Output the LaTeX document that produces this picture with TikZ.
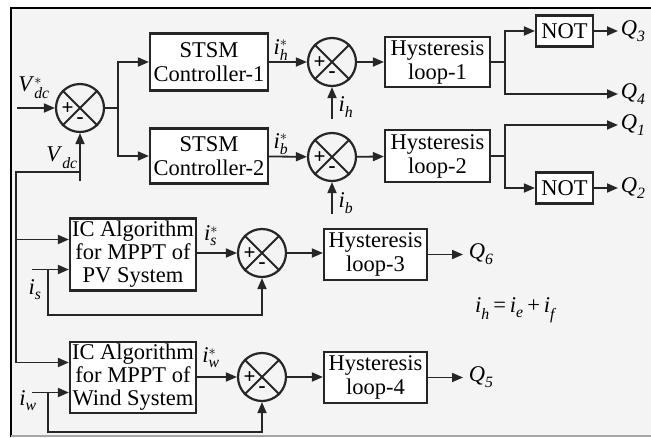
\documentclass[tikz,border=0pt]{standalone}
\usepackage{fontspec}
\usepackage{amsmath}
\setmainfont{Liberation Serif}
\usetikzlibrary{calc, positioning}
\usetikzlibrary{arrows.meta}

\definecolor{panelgray}{HTML}{F4F4F4}
\definecolor{linegray}{HTML}{262626}
\newcommand{\sig}[3]{\textit{#1}$^{#2}_{\textit{#3}}$}

\begin{document}
\begin{tikzpicture}[x=1pt, y=-1pt, line width=1.8pt, draw=linegray,
  every node/.style={font=\fontsize{22.5}{24}\selectfont},
  blockbox/.style={draw=linegray, line width=2.2pt, fill=white, align=center, inner sep=0pt},
  sumnode/.style={circle, draw=linegray, line width=2.2pt, minimum size=48pt, inner sep=0pt},
  sigarrow/.style={-{Triangle[length=11pt,width=9pt]}}]
\useasboundingbox (0,0) rectangle (651,437);

% Panel
\fill[white] (0,0) rectangle (651,437);
\fill[panelgray] (11,8) rectangle (651,436);
\draw[black, line width=2pt] (651,8) -- (11,8) -- (11,437);
\draw[gray!70, line width=1.5pt] (11,436) -- (651,436);

% Summing junctions
\node[sumnode] (s1) at (80,108) {};
\node[sumnode] (s2) at (332,62) {};
\node[sumnode] (s3) at (332,157) {};
\node[sumnode] (s4) at (262,253) {};
\node[sumnode] (s5) at (262,377) {};
\foreach \s in {s1,s2,s3,s4,s5} {
  \draw[line width=2pt] (\s.north east) -- (\s.south west) (\s.north west) -- (\s.south east);
  \node[font=\fontsize{21}{21}\selectfont\bfseries] at ($(\s.center)+(-12.5,1)$) {+};
  \node[font=\fontsize{21}{21}\selectfont\bfseries] at ($(\s.center)+(0,12.5)$) {-};
}

% Blocks
\node[blockbox, minimum width=118pt, minimum height=57pt] (stsm1) at (209,62) {STSM\\Controller-1};
\node[blockbox, minimum width=118pt, minimum height=55pt] (stsm2) at (209,156) {STSM\\Controller-2};
\node[blockbox, minimum width=105pt, minimum height=50pt] (hyst1) at (437.5,62) {Hysteresis\\loop-1};
\node[blockbox, minimum width=105pt, minimum height=52pt] (hyst2) at (437.5,156) {Hysteresis\\loop-2};
\node[blockbox, minimum width=57pt, minimum height=31pt] (not1) at (564.5,31) {NOT};
\node[blockbox, minimum width=57pt, minimum height=31pt] (not2) at (564.5,188) {NOT};
\node[blockbox, minimum width=126pt, minimum height=72pt, font=\fontsize{22.5}{23}\selectfont] (ic1) at (133,254.5) {IC Algorithm\\for MPPT of\\PV System};
\node[blockbox, minimum width=126pt, minimum height=71pt, font=\fontsize{22.5}{23}\selectfont] (ic2) at (133,377.5) {IC Algorithm\\for MPPT of\\Wind System};
\node[blockbox, minimum width=103pt, minimum height=51pt] (hyst3) at (375.5,254.5) {Hysteresis\\loop-3};
\node[blockbox, minimum width=103pt, minimum height=51pt] (hyst4) at (375.5,377.5) {Hysteresis\\loop-4};

% DC-link voltage loop
\coordinate (vin) at (17,108);
\coordinate (vfb) at (80,181);
\coordinate (vj) at (80,172);
\coordinate (vl) at (16,172);
\coordinate (b1) at (118,108);
\draw[sigarrow] (vin) -- (s1);
\draw[sigarrow] (vfb) -- (s1);
\draw (vj) -- (vl) -- (16,239.5);
\draw (s1) -- (b1);
\draw[sigarrow] (b1) |- (stsm1);
\draw[sigarrow] (b1) |- (stsm2);

% Current loops
\coordinate (ih) at (332,119);
\coordinate (ib) at (332,214);
\draw[sigarrow] (stsm1) -- (s2);
\draw[sigarrow] (stsm2) -- (s3);
\draw[sigarrow] (ih) -- (s2);
\draw[sigarrow] (ib) -- (s3);
\draw[sigarrow] (s2) -- (hyst1);
\draw[sigarrow] (s3) -- (hyst2);

% Gate signals
\coordinate (b2) at (505,62);
\coordinate (b3) at (505,156);
\coordinate (q3) at (618,31);
\coordinate (q4) at (618,94);
\coordinate (q1) at (618,125);
\coordinate (q2) at (618,188);
\draw (hyst1) -- (b2);
\draw (hyst2) -- (b3);
\draw[sigarrow] (b2) |- (not1);
\draw[sigarrow] (b2) |- (q4);
\draw[sigarrow] (b3) |- (q1);
\draw[sigarrow] (b3) |- (not2);
\draw[sigarrow] (not1) -- (q3);
\draw[sigarrow] (not2) -- (q2);

% MPPT loops
\coordinate (is) at (32,269.5);
\coordinate (isb) at (48,269.5);
\coordinate (iw) at (32,392.5);
\coordinate (iwb) at (48,392.5);
\coordinate (q6) at (463,254.5);
\coordinate (q5) at (463,377.5);
\draw[sigarrow] (vl) |- ($(ic1.west)+(0,-15)$);
\draw[sigarrow] (vl) |- ($(ic2.west)+(0,-15)$);
\draw[sigarrow] (is) -- ($(ic1.west)+(0,15)$);
\draw[sigarrow] (iw) -- ($(ic2.west)+(0,15)$);
\draw[sigarrow] (isb) -- ++(0,45.5) -| (s4);
\draw[sigarrow] (iwb) -- ++(0,39.5) -| (s5);
\draw[sigarrow] (ic1.east |- s4) -- (s4);
\draw[sigarrow] (ic2.east |- s5) -- (s5);
\draw[sigarrow] (s4) -- (hyst3.west |- s4);
\draw[sigarrow] (s5) -- (hyst4.west |- s5);
\draw[sigarrow] (hyst3) -- (q6);
\draw[sigarrow] (hyst4) -- (q5);

% Labels
\node (lvref) at (34,88) {\sig{V}{*}{dc}};
\node (lvdc) at (62,158) {\sig{V}{}{dc}};
\node (lihr) at (281,50) {\sig{i}{*}{h}};
\node (libr) at (281,144) {\sig{i}{*}{b}};
\node (lih) at (346,107) {\sig{i}{}{h}};
\node (lib) at (346,203) {\sig{i}{}{b}};
\node (lisr) at (211,236) {\sig{i}{*}{s}};
\node (liwr) at (211,358) {\sig{i}{*}{w}};
\node (lis) at (35,290) {\sig{i}{}{s}};
\node (liw) at (28,401) {\sig{i}{}{w}};
\node[right, inner sep=2pt] at (q3) {\sig{Q}{}{3}};
\node[right, inner sep=2pt] at (q4) {\sig{Q}{}{4}};
\node[right, inner sep=2pt] at (q1) {\sig{Q}{}{1}};
\node[right, inner sep=2pt] at (q2) {\sig{Q}{}{2}};
\node[right, inner sep=5pt] at (q6) {\sig{Q}{}{6}};
\node[right, inner sep=5pt] at (q5) {\sig{Q}{}{5}};
\node (leq) at (515,310) {\sig{i}{}{h}\,=\,\sig{i}{}{e}\,+\,\sig{i}{}{f}};
\end{tikzpicture}
\end{document}
